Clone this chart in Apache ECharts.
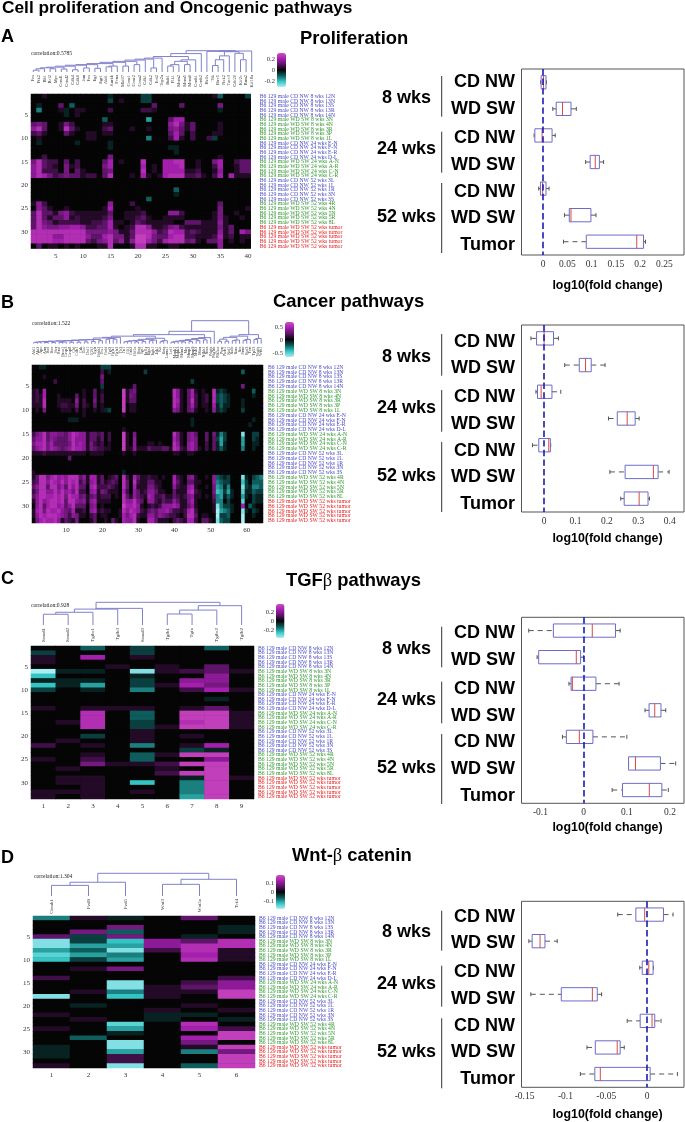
<!DOCTYPE html>
<html><head><meta charset="utf-8">
<style>html,body{margin:0;padding:0;background:#fff}#c{width:685px;height:1122px;filter:blur(0.35px)}</style>
<script src="https://cdn.jsdelivr.net/npm/echarts@6/dist/echarts.min.js"></script>
</head><body><div id="c"></div>
<script>
// ---------- shared categories ----------
const rowLabels = [
"B6 129 male CD NW 8 wks 12N","B6 129 male CD NW 8 wks 13N","B6 129 male CD NW 8 wks 13S","B6 129 male CD NW 8 wks 13R","B6 129 male CD NW 8 wks 14N",
"B6 129 male WD SW 8 wks 3N","B6 129 male WD SW 8 wks 4N","B6 129 male WD SW 8 wks 3R","B6 129 male WD SW 8 wks 3P","B6 129 male WD SW 8 wks 1L",
"B6 129 male CD NW 24 wks E-N","B6 129 male CD NW 24 wks F-N","B6 129 male CD NW 24 wks E-R","B6 129 male CD NW 24 wks D-L",
"B6 129 male WD SW 24 wks A-N","B6 129 male WD SW 24 wks A-R","B6 129 male WD SW 24 wks C-N","B6 129 male WD SW 24 wks C-R",
"B6 129 male CD NW 52 wks 3L","B6 129 male CD NW 52 wks 1L","B6 129 male CD NW 52 wks 1R","B6 129 male CD NW 52 wks 3N","B6 129 male CD NW 52 wks 3S",
"B6 129 male WD SW 52 wks 4R","B6 129 male WD SW 52 wks 4N","B6 129 male WD SW 52 wks 5N","B6 129 male WD SW 52 wks 5R","B6 129 male WD SW 52 wks 8L",
"B6 129 male WD SW 52 wks tumor","B6 129 male WD SW 52 wks tumor","B6 129 male WD SW 52 wks tumor","B6 129 male WD SW 52 wks tumor","B6 129 male WD SW 52 wks tumor"];
const boxRows = ["CD NW","WD SW","CD NW","WD SW","CD NW","WD SW","Tumor"];

const genesA = ["Fes","Ptk2","Rb1","Bcl2","Myc","Ccnd1","Ccnd2","Cdk4","Cdk6","Jun","Fos","Egf","Egr1","Akt1","Aurkb","Pcna","Mki67","Ccne1","Ccne2","Ccna2","Cdk1","Cdk2","Ect2","Top2a","Bub1","Plk1","Mcm2","Mcm5","Mcm6","Ccnb1","Ccnb2","Hells","Ttk","Birc5","Nek2","Tacc3","Cdc20","Kif2c","Rrm2","Kif18a"];
const genesB = ["Abl1","Akt2","Apc","Atm","Bad","Bax","Bcr","Braf","Brca1","Casp3","Casp8","Cbl","Cdh1","Crk","Dcc","Dvl1","E2f1","Egfr","Erbb2","Ets1","Fadd","Fgf2","Fgfr1","Fgfr2","Flt3","Fn1","Gli1","Grb2","Hif1a","Hras","Igf1","Igf1r","Itga2","Itgb1","Jak1","Kit","Kras","Lama1","Lef1","Mapk1","Mapk3","Mdm2","Met","Mmp2","Mmp9","Msh2","Mtor","Nfkb1","Nras","Pdgfa","Pdgfrb","Pik3ca","Pten","Ptch1","Raf1","Ralb","Rara","Ret","Smo","Stat3","Tert","Tp53","Vegfa","Wnt1"];
const genesC = ["Smad1","Smad2","Tgfbr1","Tgfb3","Smad3","Tgfb1","Tgfa","Tgfbr2","Tgfb2"];
const genesD = ["Ctnnb1","Fzd9","Fzd5","Wnt3","Wnt5a","Tcf4"];

// ---------- heat map values, in tenths of the colour bar ----------
const heatA = [
[0,0,1,0,0,0,0,0,0,0,0,0,0,0,-1,0,0,0,0,0,-2,-2,0,0,0,0,0,0,0,0,0,0,0,1,-3,0,0,0,0,-2],
[0,0,0,0,0,0,0,0,0,0,0,0,0,0,-2,0,1,0,0,0,-2,-2,0,0,0,0,0,0,0,0,0,0,0,0,0,0,0,0,0,0],
[0,-1,0,0,0,3,0,-3,0,0,0,0,0,0,0,0,0,0,0,0,0,0,3,0,0,0,0,3,0,0,0,0,0,0,4,0,0,0,0,0],
[0,-4,0,0,0,1,-1,0,1,1,0,0,0,0,2,0,0,0,0,0,2,2,1,0,0,0,0,0,0,0,0,0,0,0,-1,0,0,0,0,0],
[0,0,0,0,0,0,-1,0,1,0,0,0,0,0,0,0,0,0,0,0,0,0,0,0,0,0,0,0,0,0,0,0,0,0,0,0,0,0,0,0],
[0,0,0,0,0,0,0,0,0,0,0,0,0,-3,0,0,0,0,0,0,0,-5,0,0,0,3,6,6,0,0,0,0,0,0,0,0,0,0,0,0],
[3,4,3,0,0,1,4,2,0,0,0,0,0,1,1,0,0,0,0,0,0,0,0,0,0,5,7,4,1,3,0,0,0,0,1,0,0,0,0,0],
[5,7,3,0,0,1,7,3,1,0,0,0,0,2,3,0,0,0,1,0,0,1,0,0,0,4,5,3,1,3,0,0,0,0,1,0,0,0,0,0],
[2,3,1,0,0,0,3,1,0,0,1,1,0,1,1,0,0,0,0,0,0,0,0,0,0,3,6,3,0,2,0,0,0,1,1,0,0,0,0,0],
[0,1,0,0,0,0,0,0,0,0,1,1,0,0,0,0,0,0,0,0,0,-4,0,0,0,2,6,1,0,2,0,0,2,-2,0,0,0,0,0,0],
[0,-1,0,0,0,0,0,0,-1,0,0,0,0,0,-1,0,0,0,0,0,0,0,0,0,0,0,0,0,0,0,0,0,0,0,0,0,0,0,0,0],
[0,0,0,0,0,0,0,0,0,0,0,0,0,0,-1,0,0,0,0,0,0,0,0,0,0,-1,-1,0,0,0,0,0,0,0,0,0,0,0,0,0],
[0,0,0,0,0,0,0,0,0,0,0,0,0,0,0,0,0,0,0,0,0,0,0,0,0,0,-1,0,0,0,0,0,0,0,0,0,0,0,0,0],
[0,0,2,0,0,0,0,0,0,0,0,0,0,0,4,0,0,0,0,0,0,0,0,0,0,0,0,0,0,0,0,0,0,0,1,0,0,0,0,0],
[4,7,3,2,2,0,3,0,2,0,0,0,0,3,6,0,1,0,0,0,7,0,0,0,6,6,7,7,0,0,1,0,0,4,6,0,0,2,3,3],
[5,7,3,2,1,0,4,1,2,0,0,0,0,4,6,0,0,0,0,0,6,0,1,0,6,6,6,7,0,0,1,0,0,2,6,0,0,1,3,3],
[5,7,2,2,2,0,4,0,3,1,0,0,0,3,4,0,0,0,0,0,7,0,1,0,6,6,6,6,1,1,2,0,0,1,5,0,0,1,3,3],
[5,7,6,4,2,3,4,3,3,1,2,2,0,3,7,0,0,0,1,0,6,1,0,1,6,7,7,7,2,2,3,1,0,2,6,0,6,1,1,1],
[0,0,0,0,0,0,0,0,0,0,0,0,0,0,0,0,0,0,0,0,0,0,0,0,0,0,0,0,0,0,0,0,0,0,0,0,0,0,0,0],
[0,0,0,0,0,0,0,0,0,0,0,0,0,0,0,0,0,0,0,0,0,0,0,0,0,0,0,0,0,0,0,0,0,0,0,0,0,0,0,0],
[0,0,0,0,0,0,0,0,0,0,0,0,0,0,0,0,0,0,0,0,0,0,0,0,0,0,-3,0,0,0,0,0,0,0,0,0,0,0,0,0],
[0,0,0,0,0,0,0,0,0,0,0,0,0,0,0,0,0,0,0,0,0,0,0,0,0,0,-1,0,0,0,0,0,0,0,0,0,0,0,0,0],
[0,0,0,0,0,0,0,0,0,0,0,0,0,0,0,0,0,0,0,0,0,-3,0,0,0,0,0,0,0,0,0,0,0,0,0,0,0,0,0,0],
[1,5,2,0,0,0,0,0,0,0,0,0,0,0,5,0,0,0,2,0,0,0,0,0,0,0,0,0,0,0,0,0,0,0,3,0,0,0,0,0],
[0,5,3,1,0,0,1,0,0,0,0,0,0,1,6,0,0,0,0,1,0,0,0,0,0,0,0,0,0,0,0,0,0,0,4,0,0,0,0,1],
[3,7,3,3,1,4,5,2,1,1,1,1,1,1,3,0,0,1,1,1,2,0,0,0,0,5,5,2,0,0,0,0,0,1,4,0,0,1,0,0],
[3,7,3,1,3,3,5,1,2,1,1,1,1,2,4,0,0,1,1,2,3,1,0,0,1,1,1,1,0,0,0,0,0,1,4,1,0,0,1,0],
[3,7,4,3,1,2,2,2,2,1,1,2,2,3,6,1,1,0,1,3,2,1,1,1,1,1,0,0,3,3,3,1,1,1,5,1,0,0,0,0],
[3,7,5,4,4,5,5,6,6,5,2,2,3,3,6,1,0,1,2,7,7,5,1,1,2,4,5,2,1,1,1,1,1,1,4,1,3,0,0,0],
[7,7,7,7,7,7,7,7,7,7,4,4,4,4,5,4,1,1,3,7,7,7,5,2,3,7,6,6,2,3,2,1,1,1,5,1,3,0,6,4],
[7,7,7,7,5,5,7,7,7,7,5,3,3,6,7,4,4,1,3,8,8,7,4,3,3,6,7,7,2,2,1,1,1,2,6,1,2,0,1,1],
[7,7,7,7,6,6,7,7,7,7,3,2,4,5,7,3,5,1,5,8,8,6,4,2,6,7,7,7,3,4,1,0,3,3,5,0,1,0,1,0],
[0,3,0,1,1,0,1,0,1,0,0,0,1,1,7,0,0,0,1,7,7,1,1,0,0,1,1,0,0,0,0,0,0,0,5,0,0,0,0,0]];

const heatB = [
[0,0,-1,-1,0,0,0,0,0,0,0,0,0,0,0,0,0,0,0,-2,-2,-2,0,0,0,0,0,0,0,0,0,0,0,0,0,0,0,0,0,0,0,0,0,0,0,0,0,0,0,0,0,0,0,0,0,0,0,0,0,0,0,0,0,0],
[0,0,0,0,0,0,0,0,0,0,0,0,0,0,0,0,0,0,0,2,0,-1,0,0,0,0,0,0,0,0,0,-2,0,0,0,0,0,0,0,0,0,0,0,0,0,0,0,0,0,0,0,0,0,0,0,0,0,0,-3,0,0,0,0,0],
[0,0,0,1,0,0,0,0,0,0,0,0,0,0,0,0,0,0,0,4,0,0,0,0,0,0,0,0,0,0,0,0,0,0,0,0,0,0,0,0,0,0,0,0,0,0,0,0,0,0,0,0,0,0,0,0,0,0,0,0,0,0,0,0],
[0,0,0,0,0,0,2,0,0,0,0,0,0,0,0,0,0,0,0,3,0,0,0,0,0,0,0,0,0,0,0,0,0,0,0,0,0,0,0,0,0,0,0,0,-2,0,0,0,0,0,0,0,0,0,0,0,0,0,0,0,0,0,0,0],
[0,0,0,0,0,0,0,0,0,0,0,0,0,0,0,0,0,0,0,-2,0,0,0,0,0,0,0,0,3,0,0,0,0,0,0,0,0,0,0,0,0,0,0,0,0,0,0,0,0,0,0,0,0,0,0,0,0,0,4,0,0,0,0,0],
[1,2,0,6,0,0,0,0,0,0,0,0,0,0,1,0,0,3,0,1,0,0,0,0,0,8,1,3,4,0,0,0,0,0,0,0,0,0,0,7,5,1,0,3,6,1,0,1,0,0,7,-1,-2,-1,0,0,0,0,0,0,0,-3,0,0],
[1,2,1,6,0,0,0,1,0,0,0,0,3,0,1,0,0,3,0,2,0,0,0,0,0,8,1,4,3,0,0,0,0,0,0,0,0,0,0,7,5,1,0,3,6,2,0,1,2,0,7,-2,-3,-2,-1,0,0,0,0,0,0,-1,0,0],
[1,2,1,7,0,0,0,1,1,1,1,0,5,0,2,0,0,4,0,2,0,0,0,0,0,8,1,3,3,0,0,0,0,0,0,0,0,0,0,7,6,1,0,3,7,2,0,1,2,0,7,-2,-3,-2,-1,0,0,0,-1,0,0,0,0,0],
[1,1,1,7,0,0,0,1,2,2,1,1,4,0,2,1,0,3,0,1,0,0,0,0,0,8,0,1,1,0,0,0,0,0,0,0,0,0,0,7,5,1,0,3,6,2,0,1,1,0,6,-1,-3,-1,-1,0,0,0,-1,0,0,0,0,0],
[0,1,0,4,0,0,0,0,1,1,1,0,2,0,1,0,0,1,0,1,-1,-2,0,0,0,8,0,1,1,0,0,0,0,0,0,0,0,0,0,5,4,1,0,3,4,1,0,0,1,0,5,-1,-2,-1,0,0,0,0,-2,0,0,0,0,0],
[0,0,0,0,0,0,0,0,0,0,0,0,0,0,1,0,0,0,0,0,0,0,0,0,0,1,0,0,0,0,0,0,0,0,0,0,0,0,0,0,0,0,0,0,0,0,0,0,0,0,0,0,0,0,0,0,0,0,0,0,0,0,0,0],
[0,0,0,0,0,0,0,0,0,0,-1,-1,-1,0,0,0,0,0,0,0,0,0,0,0,0,0,0,0,0,0,0,0,0,0,0,0,0,0,0,0,0,0,0,0,-1,0,0,0,0,0,0,0,0,0,0,0,0,0,0,0,0,-1,0,0],
[0,0,0,0,0,0,0,0,0,0,0,0,0,0,0,0,0,0,0,0,0,0,0,0,0,0,0,0,0,0,0,0,0,0,0,0,0,0,0,0,0,0,0,0,-1,0,0,0,0,0,0,0,0,0,0,0,0,0,0,0,-1,0,0,0],
[0,0,0,0,0,0,0,0,0,0,0,0,0,0,0,0,0,0,0,0,0,0,0,0,0,1,0,0,0,0,0,0,0,0,0,0,0,0,0,0,0,0,0,0,0,0,0,0,0,0,0,0,0,0,0,0,0,0,0,0,0,0,0,0],
[2,4,5,7,3,5,5,4,4,3,5,7,6,5,5,1,3,3,2,3,0,2,0,0,0,8,1,0,4,0,0,0,0,0,0,0,0,0,0,7,4,1,0,4,5,3,0,0,3,0,4,-1,-4,-2,0,0,0,0,-8,0,0,-2,-2,0],
[3,5,5,7,3,5,4,3,3,3,5,7,5,5,5,1,3,3,1,3,0,2,0,0,0,8,1,0,5,0,0,0,0,0,0,0,0,0,0,6,4,1,0,4,5,4,0,0,3,0,3,-2,-5,-2,0,0,0,0,-5,0,0,-2,-1,0],
[4,6,6,7,4,6,3,3,3,3,4,7,5,6,5,1,4,2,1,2,0,1,0,0,0,8,1,0,5,0,0,0,1,1,0,1,0,0,0,7,5,1,0,5,6,4,0,0,2,0,3,-1,-5,-1,0,0,0,0,-5,0,0,-1,-1,0],
[3,5,6,7,4,6,5,4,3,4,5,7,6,6,5,1,4,3,2,2,1,1,0,0,0,8,1,1,5,1,1,1,3,2,2,2,3,3,1,7,6,2,1,5,6,4,1,0,2,0,3,-1,-3,-1,0,0,0,0,-4,0,0,-1,0,0],
[1,1,1,2,1,1,1,1,1,1,1,1,1,1,1,0,1,1,1,1,0,0,0,0,0,1,0,0,1,0,0,0,0,0,0,0,0,0,0,1,1,0,0,1,1,0,0,0,0,0,0,0,0,0,0,0,0,0,0,0,0,0,0,0],
[0,0,0,0,0,0,0,0,0,0,3,0,0,0,0,0,0,0,0,0,0,0,0,0,0,0,0,0,0,0,0,0,0,0,0,0,0,0,0,0,0,0,0,0,0,0,0,0,0,0,0,0,0,0,0,0,0,0,0,0,0,0,0,0],
[0,0,0,0,0,0,0,0,0,0,0,0,0,0,0,0,0,0,0,0,0,0,0,0,0,0,0,0,0,0,0,0,0,0,0,0,0,0,0,0,0,0,0,0,0,0,0,0,0,0,0,0,0,0,0,0,0,0,0,0,0,0,0,0],
[0,0,0,0,0,0,0,0,0,0,0,0,0,0,0,0,0,0,0,0,0,0,0,0,0,0,0,0,0,0,0,0,0,0,0,0,0,0,0,0,0,0,0,0,0,0,0,0,0,0,0,0,0,0,0,0,0,0,0,0,0,0,0,0],
[1,0,0,0,0,0,0,0,0,0,0,0,0,0,0,0,0,0,0,0,0,0,0,0,0,-1,0,0,0,0,0,0,0,0,0,0,0,0,0,0,0,0,0,0,0,0,0,0,0,0,0,0,0,0,0,0,0,0,0,0,0,0,0,0],
[1,3,7,7,4,6,7,5,6,5,7,7,7,3,5,1,6,6,1,3,0,1,2,3,0,7,2,0,6,3,1,1,2,1,1,0,1,0,0,6,2,1,0,4,5,1,0,0,1,0,5,-3,-2,-1,-2,0,0,0,-8,-1,0,-2,-3,-4],
[2,3,7,7,5,7,6,5,7,5,7,6,7,2,4,1,5,6,1,3,1,2,3,2,0,7,3,0,7,2,1,1,3,3,1,1,0,0,0,6,3,1,0,3,3,1,1,0,0,0,5,-4,-3,-2,-2,0,0,0,-6,-2,0,-3,-3,-3],
[3,5,7,7,3,7,7,4,6,3,7,5,7,3,3,0,6,7,2,2,2,3,2,1,0,7,3,0,6,1,1,1,4,4,2,1,0,0,0,5,2,1,1,5,6,1,0,0,1,0,4,-5,-4,-1,-4,0,0,0,-8,-2,-1,-4,-4,-3],
[2,4,7,7,5,5,7,5,7,5,6,4,7,2,2,0,5,6,1,4,3,1,1,1,0,6,2,0,5,3,1,2,5,5,3,1,1,0,0,3,1,1,1,6,7,2,1,0,0,0,4,-6,-5,-2,-5,-1,0,0,-7,-1,-1,-3,-2,-2],
[3,5,7,7,6,6,7,6,7,4,7,6,6,3,4,1,3,4,1,2,2,2,0,1,0,7,3,1,5,3,2,1,6,5,2,2,3,1,1,3,2,1,2,4,5,1,1,0,1,0,3,-4,-5,-1,-3,-1,0,0,-5,-1,0,-2,-1,-1],
[1,5,7,5,6,7,7,6,7,3,7,7,5,4,5,1,5,6,1,1,1,1,0,0,0,7,5,5,7,4,3,0,5,5,2,1,3,2,2,5,3,1,1,4,6,1,0,0,0,0,2,-4,-4,0,-2,0,0,0,-7,0,0,-2,-1,-1],
[0,5,7,3,6,7,7,5,6,3,5,7,3,3,3,0,4,5,0,1,0,0,0,0,0,8,6,6,7,5,1,0,1,2,1,2,5,5,5,6,5,1,1,3,5,1,0,0,0,0,1,-8,-4,-2,-2,-1,0,0,6,0,-3,-1,0,0],
[1,6,7,4,7,6,6,7,5,4,3,6,1,1,2,0,5,6,1,2,1,1,0,0,1,7,5,7,6,5,2,1,3,4,3,5,5,6,4,2,2,1,2,6,7,2,0,0,0,0,1,-9,-5,-4,-3,-1,0,0,-8,-1,0,-2,-1,0],
[1,5,7,6,7,7,7,6,5,4,2,5,4,1,1,0,2,3,0,1,1,0,0,0,1,6,4,6,7,2,1,1,5,5,3,5,4,3,2,2,1,0,2,7,7,3,0,1,1,0,0,-9,-2,-2,-3,0,0,0,-9,0,0,-1,0,0],
[0,4,6,7,6,6,7,5,1,3,2,1,4,0,0,0,1,3,0,0,1,0,3,1,0,6,5,5,7,1,0,0,6,6,3,1,1,1,0,2,3,2,1,6,6,2,0,3,3,1,0,-8,-3,-2,-2,0,0,0,-9,0,0,0,0,0]];

const heatC = [
[0,0,-3,0,-2,0,0,-3,0],[-2,0,0,0,-2,0,0,0,0],[1,0,6,0,1,0,0,0,0],[1,0,0,0,0,0,0,0,0],[0,0,0,1,0,1,0,3,0],
[-9,-1,-1,0,-8,1,2,3,1],[-6,0,0,0,-1,0,0,5,0],[-1,-1,-1,0,-2,0,5,5,0],[-6,-1,-5,0,-2,1,6,4,0],[-2,0,-1,0,-4,0,2,6,1],
[0,0,0,0,0,0,0,0,0],[0,0,0,0,0,0,0,-1,0],[0,0,0,0,0,0,0,0,0],[1,0,1,1,1,0,1,3,0],
[0,0,7,0,-3,0,8,8,1],[0,0,7,0,-3,0,8,8,1],[0,1,7,0,-2,0,7,8,1],[0,0,7,0,-2,1,8,8,1],
[0,0,0,0,1,0,0,0,0],[0,0,-2,0,1,0,1,0,0],[0,1,0,0,1,0,0,0,0],[2,0,1,0,-4,0,1,6,0],[0,0,0,0,0,0,-2,-1,0],
[0,0,1,0,-3,1,8,8,0],[1,0,2,0,-3,0,0,5,0],[0,0,4,1,1,2,8,8,0],[0,1,0,0,0,1,0,8,0],[0,0,0,0,0,2,8,8,0],
[0,1,1,0,0,0,-1,8,1],[0,1,1,0,-6,0,-4,8,0],[0,0,1,0,0,0,-4,8,0],[1,1,1,0,1,0,-4,8,0],[1,0,1,0,0,0,-5,8,0]];

const heatD = [
[-4,1,-1,0,3,0],[0,0,0,0,0,0],[0,0,4,0,0,-1],[0,4,-3,0,0,-1],[3,-2,4,0,-1,0],
[-8,-2,-6,5,3,7],[-8,-5,-5,5,7,7],[-5,-3,-8,2,7,1],[-7,-5,-4,0,6,1],[-6,-2,-5,0,7,1],
[0,0,0,0,0,0],[0,1,4,0,0,0],[0,0,0,0,0,0],[2,0,0,0,0,2],
[0,0,-8,0,2,5],[0,0,-8,1,3,5],[0,1,-4,1,1,8],[-8,0,-6,1,0,8],
[0,0,0,0,0,0],[0,-1,0,0,1,0],[0,0,0,1,0,1],[1,0,0,-1,-1,0],[0,1,0,-1,0,-1],
[0,0,-7,0,7,0],[1,0,-5,0,6,2],[0,0,-1,0,0,8],[0,-3,0,0,6,8],[0,0,-8,0,4,0],
[-1,0,-8,0,1,8],[-1,0,-5,0,-4,4],[-1,0,2,0,0,8],[0,0,2,0,0,8],[1,0,-8,0,-3,8]];

// ---------- dendrogram merges: [left, right, height]; positive = leaf column, negative = how many merges back ----------
const treeA = [[1,2,.05],[-1,3,.088],[4,5,.088],[-2,-1,.114],[6,7,.08],[-2,-1,.131],[8,9,.06],[-2,-1,.158],[10,11,.11],[-2,-1,.184],[12,13,.1],[-2,-1,.2],[14,15,.14],[-1,16,.16],[-3,-1,.228],[17,18,.16],[-2,-1,.263],[19,20,.2],[-2,-1,.289],[-1,21,.324],[22,23,.11],[-2,-1,.35],[-1,24,.377],[25,26,.16],[-1,27,.2],[28,29,.2],[-2,-1,.29],[-1,30,.33],[-6,-1,.42],[-1,31,.5],[33,34,.175],[-1,35,.333],[-1,36,.438],[38,39,.333],[37,-1,.508],[-3,-1,.552],[32,-1,.56],[-1,40,.57],[-9,-1,.5785]];
const treeB = [[1,2,.09],[-1,3,.11],[4,5,.08],[-2,-1,.13],[6,7,.08],[-2,-1,.15],[8,9,.09],[-1,10,.11],[-3,-1,.17],[11,12,.1],[-2,-1,.19],[13,14,.1],[-2,-1,.21],[15,16,.12],[-2,-1,.24],[17,18,.15],[-2,-1,.26],[19,20,.2],[-2,-1,.28],[21,22,.3],[23,24,.3],[-2,-1,.34],[-4,-1,.38],[-1,25,.42],
[26,27,.13],[-1,28,.16],[29,30,.12],[-2,-1,.19],[31,32,.14],[-2,-1,.22],[33,34,.2],[-1,35,.24],[-3,-1,.29],[36,37,.14],[-1,38,.2],[-3,-1,.36],[-13,-1,.5],
[39,40,.1],[-1,41,.13],[42,43,.12],[-2,-1,.17],[44,45,.14],[-2,-1,.22],[46,47,.2],[-2,-1,.27],[48,49,.25],[-2,-1,.34],[-1,50,.4],[-12,-1,.6],[-1,51,.82],
[52,53,.16],[54,55,.16],[-2,-1,.3],[56,57,.2],[-1,58,.24],[-3,-1,.42],[59,60,.22],[-1,61,.28],[-3,-1,.5],[62,63,.28],[-1,64,.35],[-3,-1,.6],[-13,-1,1.522]];
const treeC = [[1,2,.44],[-1,3,.52],[-1,4,.65],[-1,5,.68],[6,7,.45],[-1,8,.61],[-1,9,.79],[-5,-1,.928]];
const treeD = [[1,2,.61],[-1,3,.79],[4,5,.67],[-1,6,.96],[-3,-1,1.304]];

// ---------- box plots: [min, q1, median, q3, max] per row ----------
const boxA = [[-.005,-.004,.001,.006,.007],[.02,.027,.04,.0575,.0685],[-.0185,-.017,-.002,.0185,.025],[.0877,.097,.1075,.116,.1247],[-.009,-.0055,-.001,.006,.0123],[.044,.054,.0575,.0986,.109],[.042,.089,.193,.207,.211]];
const boxB = [[-.042,-.024,0,.03,.0455],[.0656,.112,.132,.15,.194],[-.026,-.021,-.0095,.025,.053],[.205,.233,.2646,.29,.3026],[-.037,-.017,.0148,.02,.021],[.2095,.258,.348,.363,.398],[.244,.255,.3026,.331,.3355]];
const boxC = [[-.127,-.07,.02,.0738,.0846],[-.1077,-.104,-.017,-.007,0],[-.034,-.029,-.026,.0285,.082],[.142,.1515,.1646,.179,.19],[-.049,-.04,-.01,.0215,.1],[.104,.104,.12,.1777,.213],[.066,.09,.152,.181,.196]];
const boxD = [[-.036,-.0138,-.003,.02,.0317],[-.1447,-.1407,-.131,-.125,-.11],[-.009,-.006,.002,.0073,.0077],[-.1423,-.105,-.067,-.061,-.0557],[-.0244,-.0085,.006,.0093,.017],[-.0736,-.0634,-.0366,-.033,-.028],[-.0817,-.064,-.0573,.0037,.037]];
const tickA = [0,.05,.1,.15,.2,.25];
const tickB = [0,.1,.2,.3,.4];
const tickC = [-.1,0,.1,.2];
const tickD = [-.15,-.1,-.05,0];

// ---------- layout and style ----------
const SERIF = '"Liberation Serif"', SANS = '"Liberation Sans"';
const groupColor = ['#4a4ac0','#2e962e','#4a4ac0','#2e962e','#4a4ac0','#2e962e','#e02020'];
const groupSize = [5,5,4,4,5,5,5];
const rowColors = []; groupSize.forEach((n,g)=>{for(let i=0;i<n;i++)rowColors.push(groupColor[g]);});
const heatRamp = ['#a8eef4','#35c4c4','#0e5c5c','#050505','#5e1468','#a41fae','#cf4fc0'];

const panels = [
 {heat:heatA,tree:treeA,genes:genesA,box:boxA,ticks:tickA,sub:.01,xr:[-.0445,.2904],
  hg:[31,94,219.7,154.4],dg:[30.5,50.7,224,21.3],bg:[521.5,69,162.5,186],lab:[5,5],labM:9,
  vm:[277,53,9,34],cb:[['0.2',59],['0',70],['-0.2',81]],cbx:275,corr:['correlation:0.5785',31,54],
  title:{t:'Proliferation',x:300,y:39},letter:['A',37],
  rowsY:[82.3,109,138.3,165,191.7,218.3,245],wk:[97.7,149,216.7],bars:[[76,116.7],[131.7,172.7],[183,253]],xl:286,geneW:4.5,maxH:.5785},
 {heat:heatB,tree:treeB,genes:genesB,box:boxB,ticks:tickB,sub:.02,xr:[-.072,.4455],
  hg:[32,365,231,158],dg:[32,320.7,231,23],bg:[521.5,325,162.5,187],lab:[10,5],labM:5,
  vm:[285,322,9,35],cb:[['0.5',327],['0',340],['-0.5',353]],cbx:283,corr:['correlation:1.522',32,324],
  title:{t:'Cancer pathways',x:273,y:302},letter:['B',303],
  rowsY:[341.7,368.3,397.3,424,450.7,477.3,504],wk:[356.7,408,475.7],bars:[[334,375.7],[390,431.7],[442,512]],xl:538.7,geneW:4.2,maxH:1.522},
 {heat:heatC,tree:treeC,genes:genesC,box:boxC,ticks:tickC,sub:.02,xr:[-.1438,.2323],
  hg:[31,646,223,153],dg:[31,602.3,223,22.7],bg:[521.5,617.3,162.5,186],lab:[1,5],labM:4,
  vm:[276,604,8.5,34],cb:[['0.2',612.7],['0',621.7],['-0.2',630]],cbx:274,corr:['correlation:0.928',31,606],
  title:{t:'{a|TGF}{b|β}{a| pathways}',x:286,y:581},letter:['C',579],
  rowsY:[632.7,660,688.7,715.7,742.3,769,795.7],wk:[649,700,767.7],bars:[[626.7,667.3],[681.7,723.3],[734,804]],xl:828,geneW:5,maxH:.928},
 {heat:heatD,tree:treeD,genes:genesD,box:boxD,ticks:tickD,sub:.01,xr:[-.1537,.0451],
  hg:[33,916,222,152],dg:[33,873.3,222,22.7],bg:[521.5,901.3,162.5,186],lab:[1,5],labM:4,
  vm:[276,875,9,34],cb:[['0.1',883.7],['0',892],['-0.1',901]],cbx:274,corr:['correlation:1.304',34,876.7],
  title:{t:'{a|Wnt-}{b|β}{a| catenin}',x:292,y:856},letter:['D',857.7],
  rowsY:[916.7,943.3,972.3,999,1025.7,1052.3,1079],wk:[932.3,983.7,1051.7],bars:[[910.7,950.7],[965.7,1006.7],[1018.3,1088.3]],xl:1115,geneW:5,maxH:1.304}
];

function treeSegments(tree){
  const nodes=[],segs=[];
  tree.forEach((m,i)=>{
    const get=r=>r>0?{x:r,h:0}:nodes[i+r];
    const A=get(m[0]),B=get(m[1]);
    nodes.push({x:(A.x+B.x)/2,h:m[2]});
    segs.push([A.x,A.h,B.x,B.h,m[2]]);
  });
  return segs;
}
const renderTree=(params,api)=>{
  const p=[[0,1],[0,4],[2,4],[2,3]].map(k=>api.coord([api.value(k[0]),api.value(k[1])]));
  return {type:'polyline',shape:{points:p},style:{stroke:'#8080cc',lineWidth:1,fill:null}};
};
const renderBox=(params,api)=>{
  const r=api.value(0),v=[1,2,3,4,5].map(i=>api.value(i));
  const y=api.coord([0,r])[1],band=api.size([0,1])[1];
  const X=v.map(d=>api.coord([d,r])[0]);
  const h=band*.25,c=2;
  const wh={stroke:'#555',lineWidth:1,lineDash:[5,4]},cap={stroke:'#555',lineWidth:1};
  const ln=(x1,y1,x2,y2,s)=>({type:'line',shape:{x1,y1,x2,y2},style:s});
  return {type:'group',children:[
    ln(X[0],y,X[1],y,wh),ln(X[3],y,X[4],y,wh),
    ln(X[0],y-c,X[0],y+c,cap),ln(X[4],y-c,X[4],y+c,cap),
    {type:'rect',shape:{x:X[1],y:y-h,width:X[3]-X[1],height:2*h},style:{stroke:'#6c6cc8',lineWidth:1,fill:'rgba(255,255,255,0.6)'}},
    ln(X[2],y-h,X[2],y+h,{stroke:'#d84848',lineWidth:1})
  ]};
};

const grid=[],xAxis=[],yAxis=[],series=[],visualMap=[],elements=[];
const rowsIdx=rowLabels.map((_,i)=>String(i+1));
const smallLab=(extra)=>Object.assign({fontFamily:SERIF,fontSize:7,color:'#333',margin:3},extra);
const txt=(text,x,y,font,align,fill,extra)=>({type:'text',x,y,silent:true,style:Object.assign({text,font,align:align||'left',verticalAlign:'middle',fill:fill||'#000'},extra||{})});

// heat map grids first so that series index = panel index
panels.forEach((P,i)=>{
  grid.push({left:P.hg[0],top:P.hg[1],width:P.hg[2],height:P.hg[3],show:true,backgroundColor:'#050505',borderWidth:0});
  const cols=P.heat[0].map((_,k)=>String(k+1));
  const xb=xAxis.length,yb=yAxis.length;
  xAxis.push({gridIndex:i,type:'category',data:cols,position:'bottom',axisLine:{show:false},splitLine:{show:false},
    axisTick:{length:2,interval:0,alignWithLabel:true,lineStyle:{color:'#333',width:.7}},
    axisLabel:smallLab({interval:(k)=>(k+1)%P.lab[0]===0,margin:4})});
  xAxis.push({gridIndex:i,type:'category',data:cols,position:'top',axisLine:{show:false},axisLabel:{show:false},
    axisTick:{length:2,interval:0,alignWithLabel:true,lineStyle:{color:'#333',width:.7}}});
  yAxis.push({gridIndex:i,type:'category',data:rowsIdx,inverse:true,position:'left',axisLine:{show:false},splitLine:{show:false},
    axisTick:{length:2,interval:0,alignWithLabel:true,lineStyle:{color:'#333',width:.7}},
    axisLabel:smallLab({interval:(k)=>(k+1)%P.lab[1]===0})});
  yAxis.push({gridIndex:i,type:'category',data:rowLabels,inverse:true,position:'right',axisLine:{show:false},axisTick:{show:false},splitLine:{show:false},
    axisLabel:{interval:0,fontFamily:SERIF,fontSize:5.7,margin:P.labM,align:'left',color:(v,k)=>rowColors[k]}});
  const d=[];P.heat.forEach((row,r)=>row.forEach((v,c)=>d.push([c,r,v])));
  series.push({type:'heatmap',xAxisIndex:xb,yAxisIndex:yb,data:d,silent:true,progressive:0,animation:false,emphasis:{disabled:true}});
  visualMap.push({type:'continuous',seriesIndex:i,min:-9,max:9,calculable:false,realtime:false,showLabel:false,text:null,padding:0,
    left:P.vm[0],top:P.vm[1],itemWidth:P.vm[2],itemHeight:P.vm[3],inRange:{color:heatRamp},hoverLink:false});
});
// dendrograms
panels.forEach((P,i)=>{
  const g=grid.length;
  grid.push({left:P.dg[0],top:P.dg[1],width:P.dg[2],height:P.dg[3]});
  const n=P.genes.length,xb=xAxis.length,yb=yAxis.length;
  xAxis.push({gridIndex:g,type:'value',min:.5,max:n+.5,show:false,splitLine:{show:false}});
  xAxis.push({gridIndex:g,type:'category',data:P.genes,position:'bottom',axisLine:{show:false},axisTick:{show:false},
    axisLabel:{interval:0,rotate:90,fontFamily:SERIF,fontSize:P.geneW,color:'#333',margin:3}});
  yAxis.push({gridIndex:g,type:'value',min:0,max:P.maxH,show:false,splitLine:{show:false}});
  series.push({type:'custom',xAxisIndex:xb,yAxisIndex:yb,data:treeSegments(P.tree),renderItem:renderTree,silent:true,clip:false,animation:false,encode:{x:[0,2],y:[1,3,4]}});
});
// box plots
panels.forEach((P,i)=>{
  const g=grid.length;
  grid.push({left:P.bg[0],top:P.bg[1],width:P.bg[2],height:P.bg[3],show:true,borderColor:'#555',borderWidth:1,backgroundColor:'transparent'});
  const xb=xAxis.length,yb=yAxis.length;
  const minor=[];
  for(let v=Math.ceil(P.xr[0]/P.sub)*P.sub;v<P.xr[1];v+=P.sub)minor.push(+v.toFixed(4));
  xAxis.push({gridIndex:g,type:'value',min:P.xr[0],max:P.xr[1],position:'bottom',splitLine:{show:false},axisLine:{show:false},
    axisTick:{customValues:minor,inside:false,length:1.5,lineStyle:{color:'#555',width:.8}},
    axisLabel:{customValues:P.ticks,formatter:v=>String(+(+v).toFixed(3)),fontFamily:SERIF,fontSize:9.5,color:'#333',margin:4}});
  xAxis.push({gridIndex:g,type:'value',min:P.xr[0],max:P.xr[1],position:'top',splitLine:{show:false},axisLine:{show:false},axisLabel:{show:false},
    axisTick:{customValues:minor,length:1.5,lineStyle:{color:'#555',width:.8}}});
  yAxis.push({gridIndex:g,type:'category',data:boxRows.map((b,k)=>b+k),inverse:true,show:false});
  series.push({type:'custom',xAxisIndex:xb,yAxisIndex:yb,data:P.box.map((b,k)=>[k].concat(b)),renderItem:renderBox,silent:true,animation:false,clip:false,
    encode:{x:[1,2,3,4,5],y:0},
    markLine:{silent:true,symbol:'none',animation:false,label:{show:false},lineStyle:{color:'#1c1cb4',type:'dashed',width:1.6,dashOffset:0},data:[{xAxis:0}]}});
  // texts
  boxRows.forEach((b,k)=>elements.push(txt(b,515,P.rowsY[k],'bold 18px '+SANS,'right')));
  ['8 wks','24 wks','52 wks'].forEach((w,k)=>elements.push(txt(w,k===0?431:436,P.wk[k],'bold 18px '+SANS,'right')));
  P.bars.forEach(s=>elements.push({type:'line',silent:true,shape:{x1:441.7,y1:s[0],x2:441.7,y2:s[1]},style:{stroke:'#333',lineWidth:1}}));
  elements.push(txt('log10(fold change)',607.5,P.xl,'bold 12.4px '+SANS,'center'));
  elements.push(txt(P.letter[0],1,P.letter[1],'bold 18px '+SANS));
  elements.push(txt(P.corr[0],P.corr[1],P.corr[2],'5.6px '+SERIF,'left','#222'));
  P.cb.forEach(c=>elements.push(txt(c[0],P.cbx,c[1],'6.6px '+SERIF,'right','#333')));
  elements.push(txt(P.title.t,P.title.x,P.title.y,'bold 18.4px '+SANS,'left','#000',{rich:{a:{font:'bold 18.4px '+SANS,fill:'#000'},b:{font:'18.4px '+SERIF,fill:'#000'}}}));
});
elements.push(txt('Cell proliferation and Oncogenic pathways',2,8,'bold 17.3px '+SANS));

const chart=echarts.init(document.getElementById('c'),null,{renderer:'canvas',width:685,height:1122});
chart.setOption({animation:false,backgroundColor:'#fff',grid,xAxis,yAxis,series,visualMap,graphic:{elements}});
</script></body></html>
